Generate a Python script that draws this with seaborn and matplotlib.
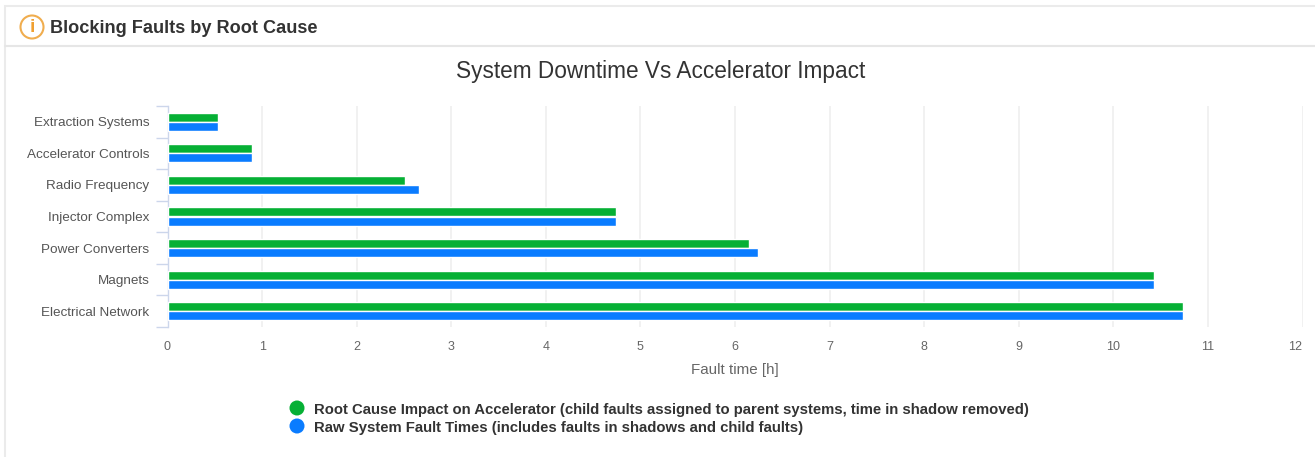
import pandas as pd
import seaborn as sns
import matplotlib.pyplot as plt
from matplotlib.lines import Line2D
from matplotlib.patches import Circle, Rectangle

# values
causes = ['Extraction Systems', 'Accelerator Controls', 'Radio Frequency', 'Injector Complex',
          'Power Converters', 'Magnets', 'Electrical Network']
impact = [0.53, 0.89, 2.51, 4.74, 6.15, 10.43, 10.74]
raw = [0.53, 0.89, 2.66, 4.74, 6.24, 10.43, 10.74]
x_ticks = [0, 1, 2, 3, 4, 5, 6, 7, 8, 9, 10, 11, 12]
impact_label = 'Root Cause Impact on Accelerator (child faults assigned to parent systems, time in shadow removed)'
raw_label = 'Raw System Fault Times (includes faults in shadows and child faults)'

W, H = 1315, 457
GREEN = '#06b035'
BLUE = '#0a7cff'

sns.set_theme(style='white')
plt.rcParams['font.family'] = ['Liberation Sans', 'DejaVu Sans']

df = pd.DataFrame({
    'cause': causes * 2,
    'hours': impact + raw,
    'series': [impact_label] * len(causes) + [raw_label] * len(causes),
})

fig = plt.figure(figsize=(W / 100, H / 100), dpi=100)
ax = fig.add_axes([167.5 / W, 1 - 327 / H, (1302.5 - 167.5) / W, (327 - 106) / H])

sns.barplot(data=df, y='cause', x='hours', hue='series', order=causes, orient='h',
            hue_order=[impact_label, raw_label], palette=[GREEN, BLUE],
            width=0.58, gap=0.03, saturation=1, legend=False, ax=ax, zorder=3)

ax.set_xlim(0, 12)
ax.set_ylim(len(causes) - 0.5, -0.5)
ax.set_xticks(x_ticks)
ax.grid(axis='x', color='#f0f0f0', lw=1.3, zorder=0)
ax.set_axisbelow(True)
for s in ['top', 'right', 'bottom']:
    ax.spines[s].set_visible(False)
ax.spines['left'].set_color('#ccd6eb')
ax.spines['left'].set_linewidth(1)

# category ticks sit between the bands
ax.set_yticks([i - 0.5 for i in range(len(causes) + 1)], minor=True)
ax.tick_params(axis='y', which='minor', length=9, width=1, color='#ccd6eb', left=True)
ax.tick_params(axis='y', which='major', length=0, pad=13, labelsize=9.7, labelcolor='#555555')
ax.tick_params(axis='x', length=0, pad=10, labelsize=9, labelcolor='#666666')
ax.get_xticklabels()[-1].set_ha('right')
ax.set_ylabel('')
ax.set_xlabel('Fault time [h]', fontsize=10.9, color='#666666', labelpad=7)

# card around the chart
fig.add_artist(Rectangle((5 / W, -0.01), (W + 10) / W, 1 - 6 / H + 0.01, transform=fig.transFigure,
                         fc='none', ec='#ebebeb', lw=1.5))
fig.add_artist(Line2D([5 / W, 1], [1 - 46 / H] * 2, color='#e6e6e6', lw=1.5))

# info icon and header
fig.add_artist(Circle((32, H - 27), 11.5, transform=None, fc='white', ec='#f0ad4e', lw=1.5))
fig.text(32 / W, 1 - 27.5 / H, 'i', ha='center', va='center', fontsize=14, fontweight='bold',
         color='#f0a030')
fig.text(50 / W, 1 - 28.5 / H, 'Blocking Faults by Root Cause', ha='left', va='center',
         fontsize=13.1, fontweight='bold', color='#333333')
fig.text(661 / W, 1 - 71.5 / H, 'System Downtime Vs Accelerator Impact', ha='center', va='center',
         fontsize=16.3, color='#333333')

# legend
for y, color, label in [(408, GREEN, impact_label), (426, BLUE, raw_label)]:
    fig.add_artist(Circle((297, H - y), 7.5, transform=None, fc=color, ec='none'))
    fig.text(314 / W, 1 - (y + 2) / H, label, ha='left', va='center', fontsize=10.75,
             fontweight='bold', color='#333333')

fig.savefig('out.png', dpi=100)
